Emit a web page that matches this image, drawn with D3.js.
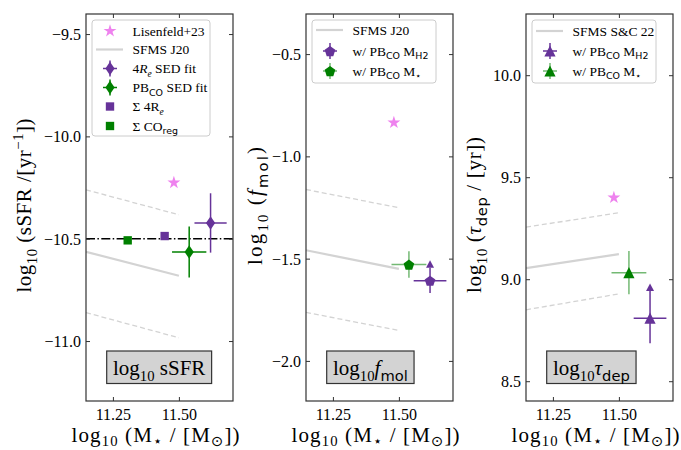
<!DOCTYPE html>
<html><head><meta charset="utf-8">
<script src="https://cdn.jsdelivr.net/npm/d3@7"></script>
<style>body{margin:0;background:#fff}svg text{white-space:pre}</style>
</head><body>
<svg id="c" width="681" height="450"></svg>
<script>
// ---------------- data ----------------
const massTicks = [11.25, 11.50];
const massDomain = [11.148, 11.705];

const ssfrTicks = [-9.5, -10.0, -10.5, -11.0];
const ssfrDomain = [-11.293, -9.402];
const fmolTicks = [-0.5, -1.0, -1.5, -2.0];
const fmolDomain = [-2.196, -0.304];
const tdepTicks = [8.5, 9.0, 9.5, 10.0];
const tdepDomain = [8.403, 10.300];

const sfmsMass = [11.148, 11.50];
const sfmsSSFR = [-10.564, -10.681];
const sfmsSSFRHigh = [-10.261, -10.383];
const sfmsSSFRLow = [-10.861, -10.984];
const sfmsFmol = [-1.459, -1.550];
const sfmsFmolHigh = [-1.162, -1.251];
const sfmsFmolLow = [-1.763, -1.851];
const sfmsTdep = [9.054, 9.123];
const sfmsTdepHigh = [9.255, 9.326];
const sfmsTdepLow = [8.850, 8.928];

const lisenfeldMass = [11.481];
const lisenfeldSSFR = [-10.226];
const lisenfeldFmol = [-0.835];
const lisenfeldTdep = [9.400];

const ssfrRefLevel = [-10.5];

// Sigma points: [4Re, COreg]
const sumMass = [11.446, 11.306];
const sumSSFR = [-10.487, -10.508];

// SED fits: [4Re, PBCO]
const sedMass = [11.620, 11.539];
const sedMassErr = [0.061, 0.065];
const sedSSFR = [-10.423, -10.565];
const sedSSFRErr = [0.145, 0.125];

// PBCO points: [w/ MH2, w/ M*]
const pbMass = [11.618, 11.538];
const pbMassErr = [0.062, 0.066];
const pbFmol = [-1.608, -1.529];
const pbFmolErrLo = [0.060, 0.065];
const pbFmolErrHi = [0.064, 0.065];
const pbTdep = [8.809, 9.032];
const pbTdepErrLo = [0.123, 0.106];
const pbTdepErrHi = [0.133, 0.106];

// ---------------- style ----------------
const SERIF = "'Liberation Serif','DejaVu Serif',serif";
const SANS = "'DejaVu Sans',sans-serif";
const PURPLE = "#663399", GREEN = "#008000", STAR = "#ee82ee", SFMS = "#d3d3d3", SPINE = "#333";

const svg = d3.select("#c");
const W = 147, TOP = 14, BOT = 401;
const lefts = [86, 306, 526];

function rich(parent, x, y, size, segs, anchor, subOff) {
  const so = subOff == null ? 0.27 : subOff;
  const t = parent.append("text").attr("x", x).attr("y", y)
    .attr("font-family", SERIF).attr("font-size", size)
    .attr("text-anchor", anchor || "start").attr("fill", "#000");
  let cur = 0;
  segs.forEach(([txt, kind]) => {
    kind = kind || "";
    let off = 0, fs = size, fam = SERIF, st = "normal";
    if (kind.includes("sub")) { off = so * size; fs = 0.7 * size; }
    if (kind.includes("sup")) { off = -0.4 * size; fs = 0.7 * size; }
    if (kind.includes("sans")) fam = SANS;
    if (kind.includes("it")) st = "italic";
    t.append("tspan").attr("dy", off - cur).attr("font-size", fs)
      .attr("font-family", fam).attr("font-style", st).text(txt);
    cur = off;
  });
  return t;
}

const sym = {
  thinDiamond: { draw(c, s) { const w = 4.6, h = 6.8; c.moveTo(0, -h); c.lineTo(w, 0); c.lineTo(0, h); c.lineTo(-w, 0); c.closePath(); } },
  pentagon: { draw(c, s) { const r = 5.6; for (let i = 0; i < 5; i++) { const a = -Math.PI / 2 + i * 2 * Math.PI / 5; const px = r * Math.cos(a), py = r * Math.sin(a) + 0.6; i ? c.lineTo(px, py) : c.moveTo(px, py); } c.closePath(); } },
  triUp: { draw(c, s) { const r = 5.6; c.moveTo(0, -r); c.lineTo(r, r); c.lineTo(-r, r); c.closePath(); } }
};
const starPath = d3.symbol(d3.symbolStar, 52)();
const squarePath = d3.symbol(d3.symbolSquare, 70)();
const diamondPath = d3.symbol(sym.thinDiamond)();
const pentPath = d3.symbol(sym.pentagon)();
const triPath = d3.symbol(sym.triUp)();

function makePanel(i, yDomain, yTicks) {
  const x0 = lefts[i];
  const x = d3.scaleLinear().domain(massDomain).range([x0, x0 + W]);
  const y = d3.scaleLinear().domain(yDomain).range([BOT, TOP]);
  const g = svg.append("g");
  const clipId = "clip" + i;
  svg.append("clipPath").attr("id", clipId).append("rect")
    .attr("x", x0).attr("y", TOP).attr("width", W).attr("height", BOT - TOP);
  const plot = g.append("g").attr("clip-path", `url(#${clipId})`);
  const fmt = d3.format(".1f");
  const ax = (gen, tr) => g.append("g").attr("transform", tr).call(gen)
    .call(s => s.select(".domain").remove())
    .call(s => s.selectAll(".tick line").attr("stroke", SPINE).attr("stroke-width", 1))
    .call(s => s.selectAll("text").attr("font-family", SERIF).attr("font-size", 16).attr("fill", "#000"));
  ax(d3.axisBottom(x).tickValues(massTicks).tickSize(-4).tickPadding(7.5).tickFormat(d3.format(".2f")), `translate(0,${BOT})`);
  ax(d3.axisTop(x).tickValues(massTicks).tickSize(-4).tickFormat(""), `translate(0,${TOP})`);
  ax(d3.axisLeft(y).tickValues(yTicks).tickSize(-4).tickPadding(5).tickFormat(fmt), `translate(${x0},0)`)
    .selectAll("text").attr("dy", "0.34em");
  ax(d3.axisRight(y).tickValues(yTicks).tickSize(-4).tickFormat(""), `translate(${x0 + W},0)`);
  g.append("rect").attr("x", x0).attr("y", TOP).attr("width", W).attr("height", BOT - TOP)
    .attr("fill", "none").attr("stroke", SPINE).attr("stroke-width", 1.2);
  return { x, y, g, plot, x0 };
}

function sfmsLines(p, mid, hi, lo) {
  const line = d3.line().x((d, i) => p.x(sfmsMass[i])).y(d => p.y(d));
  p.plot.append("path").attr("d", line(mid)).attr("fill", "none").attr("stroke", SFMS).attr("stroke-width", 2.2);
  [hi, lo].forEach(arr => p.plot.append("path").attr("d", line(arr)).attr("fill", "none")
    .attr("stroke", SFMS).attr("stroke-width", 1.3).attr("stroke-dasharray", "5,3"));
}

function marker(parent, path, cx, cy, color) {
  parent.append("path").attr("d", path).attr("transform", `translate(${cx},${cy})`).attr("fill", color);
}

function errbar(p, mx, my, xe, ylo, yhi, color, op, lolim) {
  const gg = p.plot.append("g").attr("stroke", color).attr("stroke-opacity", op).attr("stroke-width", 1.5);
  gg.append("line").attr("x1", p.x(mx - xe)).attr("x2", p.x(mx + xe)).attr("y1", p.y(my)).attr("y2", p.y(my));
  gg.append("line").attr("x1", p.x(mx)).attr("x2", p.x(mx)).attr("y1", p.y(my - ylo)).attr("y2", p.y(my + yhi));
  if (lolim) {
    const px = p.x(mx), py = p.y(my + yhi);
    p.plot.append("path").attr("d", `M${px - 4},${py}L${px + 4},${py}L${px},${py - 7.5}Z`).attr("fill", color);
  }
}

function legend(p, box, rows) {
  const lg = p.g.append("g");
  lg.append("rect").attr("x", box[0]).attr("y", box[1]).attr("width", box[2]).attr("height", box[3])
    .attr("rx", 3).attr("fill", "#fff").attr("fill-opacity", 0.8).attr("stroke", "#ccc").attr("stroke-width", 1);
  rows.forEach(r => {
    const mx = box[0] + 18, my = r.y;
    if (r.type === "line") {
      lg.append("line").attr("x1", mx - 14).attr("x2", mx + 13).attr("y1", my).attr("y2", my)
        .attr("stroke", SFMS).attr("stroke-width", 2.2);
    } else {
      if (r.err) {
        const eg = lg.append("g").attr("stroke", r.color).attr("stroke-opacity", r.eop || 1).attr("stroke-width", 1.5);
        eg.append("line").attr("x1", mx - 7).attr("x2", mx + 7).attr("y1", my).attr("y2", my);
        eg.append("line").attr("x1", mx).attr("x2", mx).attr("y1", my - 8).attr("y2", my + 8);
      }
      marker(lg, r.path, mx, my, r.color);
    }
    rich(lg, box[0] + 40.5, my + 4.8, 13.5, r.text);
  });
}

function labelBox(p, segs) {
  const t = rich(p.g, p.x0 + 27, 375, 21, segs);
  const bb = t.node().getBBox();
  p.g.insert("rect", () => t.node()).attr("x", bb.x - 6.3).attr("y", 351).attr("width", bb.width + 12.6).attr("height", 32.5)
    .attr("fill", "#d3d3d3").attr("stroke", SPINE).attr("stroke-width", 1.2);
}

function xlabel(p) {
  rich(p.g, p.x0 + W / 2 - 4, 442, 21, [["log"], ["10", "sub"], [" (M"], ["⋆", "sub sans"], [" / [M"], ["⊙", "sub sans"], ["])"]], "middle", 0.2)
    .attr("textLength", 168).attr("lengthAdjust", "spacing");
}
function ylabel(p, x, y, len, segs) {
  const gg = p.g.append("g").attr("transform", `translate(${x},${y}) rotate(-90)`);
  rich(gg, 0, 0, 21, segs, "middle").attr("textLength", len).attr("lengthAdjust", "spacing");
}

// ---------------- panel 1: sSFR ----------------
const p1 = makePanel(0, ssfrDomain, ssfrTicks);
sfmsLines(p1, sfmsSSFR, sfmsSSFRHigh, sfmsSSFRLow);
p1.plot.append("line").attr("x1", p1.x(massDomain[0])).attr("x2", p1.x(massDomain[1]))
  .attr("y1", p1.y(ssfrRefLevel[0])).attr("y2", p1.y(ssfrRefLevel[0]))
  .attr("stroke", "#000").attr("stroke-width", 1.4).attr("stroke-dasharray", "9,2.4,1.5,2.4");
marker(p1.plot, squarePath, p1.x(sumMass[1]), p1.y(sumSSFR[1]), GREEN);
marker(p1.plot, squarePath, p1.x(sumMass[0]), p1.y(sumSSFR[0]), PURPLE);
errbar(p1, sedMass[1], sedSSFR[1], sedMassErr[1], sedSSFRErr[1], sedSSFRErr[1], GREEN, 1, false);
marker(p1.plot, diamondPath, p1.x(sedMass[1]), p1.y(sedSSFR[1]), GREEN);
errbar(p1, sedMass[0], sedSSFR[0], sedMassErr[0], sedSSFRErr[0], sedSSFRErr[0], PURPLE, 1, false);
marker(p1.plot, diamondPath, p1.x(sedMass[0]), p1.y(sedSSFR[0]), PURPLE);
marker(p1.plot, starPath, p1.x(lisenfeldMass[0]), p1.y(lisenfeldSSFR[0]), STAR);
legend(p1, [92, 20, 118, 116], [
  { y: 31, path: starPath, color: STAR, text: [["Lisenfeld+23"]] },
  { y: 49.5, type: "line", text: [["SFMS J20"]] },
  { y: 68.5, path: diamondPath, color: PURPLE, err: true, text: [["4"], ["R", "it"], ["e", "it sub"], [" SED fit"]] },
  { y: 87.5, path: diamondPath, color: GREEN, err: true, text: [["PB"], ["CO", "sub sans"], [" SED fit"]] },
  { y: 106.5, path: squarePath, color: PURPLE, text: [["Σ 4R"], ["e", "it sub"]] },
  { y: 126, path: squarePath, color: GREEN, text: [["Σ CO"], ["reg", "sub sans"]] }
]);
labelBox(p1, [["log"], ["10", "sub"], [" sSFR"]]);
xlabel(p1);
ylabel(p1, 31, 205.5, 174, [["log"], ["10", "sub"], [" (sSFR /[yr"], ["−1", "sup"], ["])"]]);

// ---------------- panel 2: fmol ----------------
const p2 = makePanel(1, fmolDomain, fmolTicks);
sfmsLines(p2, sfmsFmol, sfmsFmolHigh, sfmsFmolLow);
marker(p2.plot, starPath, p2.x(lisenfeldMass[0]), p2.y(lisenfeldFmol[0]), STAR);
errbar(p2, pbMass[1], pbFmol[1], pbMassErr[1], pbFmolErrLo[1], pbFmolErrHi[1], GREEN, 0.55, false);
marker(p2.plot, pentPath, p2.x(pbMass[1]), p2.y(pbFmol[1]), GREEN);
errbar(p2, pbMass[0], pbFmol[0], pbMassErr[0], pbFmolErrLo[0], pbFmolErrHi[0], PURPLE, 1, true);
marker(p2.plot, pentPath, p2.x(pbMass[0]), p2.y(pbFmol[0]), PURPLE);
legend(p2, [312, 20, 124, 63], [
  { y: 30, type: "line", text: [["SFMS J20"]] },
  { y: 51, path: pentPath, color: PURPLE, err: true, text: [["w/ PB"], ["CO", "sub sans"], [" M"], ["H2", "sub sans"]] },
  { y: 71, path: pentPath, color: GREEN, err: true, eop: 0.55, text: [["w/ PB"], ["CO", "sub sans"], [" M"], ["⋆", "sub sans"]] }
]);
labelBox(p2, [["log"], ["10", "sub"], ["f", "it"], ["mol", "sub sans"]]);
xlabel(p2);
ylabel(p2, 262, 206, 118, [["log"], ["10", "sub"], [" ("], ["f", "it"], ["mol", "sub sans"], [")"]]);

// ---------------- panel 3: tdep ----------------
const p3 = makePanel(2, tdepDomain, tdepTicks);
sfmsLines(p3, sfmsTdep, sfmsTdepHigh, sfmsTdepLow);
marker(p3.plot, starPath, p3.x(lisenfeldMass[0]), p3.y(lisenfeldTdep[0]), STAR);
errbar(p3, pbMass[1], pbTdep[1], pbMassErr[1], pbTdepErrLo[1], pbTdepErrHi[1], GREEN, 0.55, false);
marker(p3.plot, triPath, p3.x(pbMass[1]), p3.y(pbTdep[1]), GREEN);
errbar(p3, pbMass[0], pbTdep[0], pbMassErr[0], pbTdepErrLo[0], pbTdepErrHi[0], PURPLE, 1, true);
marker(p3.plot, triPath, p3.x(pbMass[0]), p3.y(pbTdep[0]), PURPLE);
legend(p3, [532, 20, 124, 63], [
  { y: 31, type: "line", text: [["SFMS S&C 22"]] },
  { y: 51, path: triPath, color: PURPLE, err: true, text: [["w/ PB"], ["CO", "sub sans"], [" M"], ["H2", "sub sans"]] },
  { y: 71, path: triPath, color: GREEN, err: true, eop: 0.55, text: [["w/ PB"], ["CO", "sub sans"], [" M"], ["⋆", "sub sans"]] }
]);
labelBox(p3, [["log"], ["10", "sub"], ["τ", "it"], ["dep", "sub sans"]]);
xlabel(p3);
ylabel(p3, 481, 215, 156, [["log"], ["10", "sub"], [" ("], ["τ", "it"], ["dep", "sub sans"], [" / [yr])"]]);
</script>
</body></html>
